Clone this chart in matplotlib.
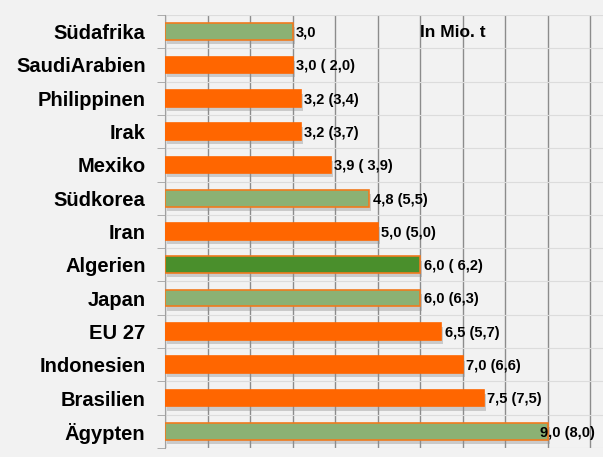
import matplotlib.pyplot as plt
import matplotlib.patheffects as pe
import numpy as np

plt.rcParams['font.family'] = ['Liberation Sans', 'DejaVu Sans']

# data (top to bottom as in the picture)
countries = ["Südafrika", "SaudiArabien", "Philippinen", "Irak", "Mexiko", "Südkorea",
             "Iran", "Algerien", "Japan", "EU 27", "Indonesien", "Brasilien", "Ägypten"]
values = [3.0, 3.0, 3.2, 3.2, 3.9, 4.8, 5.0, 6.0, 6.0, 6.5, 7.0, 7.5, 9.0]
labels = ["3,0", "3,0 ( 2,0)", "3,2 (3,4)", "3,2 (3,7)", "3,9 ( 3,9)", "4,8 (5,5)",
          "5,0 (5,0)", "6,0 ( 6,2)", "6,0 (6,3)", "6,5 (5,7)", "7,0 (6,6)",
          "7,5 (7,5)", "9,0 (8,0)"]
kind = ["g", "o", "o", "o", "o", "g", "o", "d", "g", "o", "o", "o", "g"]

fill = {"o": "#ff6600", "g": "#8bb174", "d": "#4a8f2c"}
edge = {"o": "#ff6600", "g": "#f07a1e", "d": "#f07a1e"}

bg = "#f2f2f2"
fig = plt.figure(figsize=(6.03, 4.57), dpi=100, facecolor=bg)
ax = fig.add_axes([0.2736, 0.0197, 0.7264, 0.9475], facecolor=bg)

n = len(countries)
y = np.arange(n)
shadow = [pe.SimplePatchShadow(offset=(1.5, -3), shadow_rgbFace="#909090", alpha=0.4), pe.Normal()]
for i in range(n):
    ax.barh(y[i], values[i], height=0.5, color=fill[kind[i]], edgecolor=edge[kind[i]],
            linewidth=1.2, zorder=3, path_effects=shadow)
    dx = 0.08 if i < n - 1 else -0.17
    ax.text(values[i] + dx, y[i] + 0.04, labels[i], va="center", ha="left", fontsize=10.5,
            fontweight="bold", zorder=5)

ax.set_ylim(n - 0.5, -0.5)
ax.set_xlim(0, 10.3)
ax.set_yticks(y)
ax.set_yticklabels(countries, fontsize=14.5, fontweight="bold")
ax.set_yticks(np.arange(-0.5, n, 1), minor=True)
ax.tick_params(axis="y", which="major", length=0, pad=14)
ax.tick_params(axis="y", which="minor", length=6, color="#a0a0a0", direction="out")
ax.set_xticks(np.arange(0, 11, 1))
ax.tick_params(axis="x", length=0, labelbottom=False)
ax.grid(axis="x", which="major", color="#8c8c8c", linewidth=1, zorder=0)
ax.grid(axis="y", which="minor", color="#dcdcdc", linewidth=0.8, zorder=0)
for s in ["top", "right", "bottom"]:
    ax.spines[s].set_visible(False)
ax.spines["left"].set_color("#a0a0a0")

ax.text(6.0, 0.02, "In Mio. t", va="center", ha="left", fontsize=12.5, fontweight="bold")

fig.savefig("out.png", dpi=100, facecolor=bg)
